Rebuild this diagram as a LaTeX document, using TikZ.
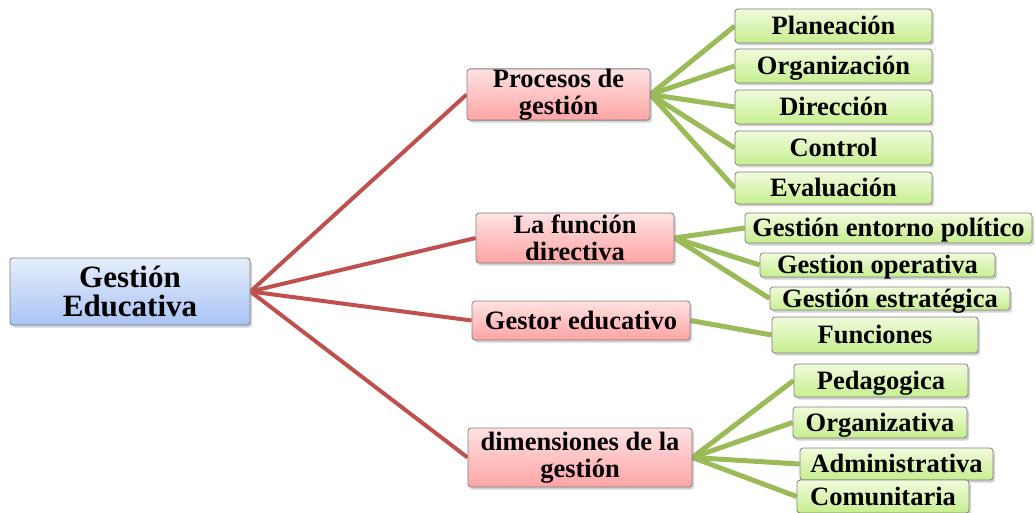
\documentclass[tikz,border=0pt]{standalone}
\usepackage{fontspec}
\setmainfont{Liberation Serif}
\usetikzlibrary{shadows,backgrounds}
\definecolor{redline}{HTML}{C0504D}
\definecolor{greenline}{HTML}{9BBB59}
\definecolor{rtop}{HTML}{FFE2E2}
\definecolor{rbot}{HTML}{FFA4A4}
\definecolor{gtop}{HTML}{F1FBDD}
\definecolor{gbot}{HTML}{C6EE8E}
\definecolor{btop}{HTML}{E6EEFC}
\definecolor{bbot}{HTML}{A7C3F5}
\definecolor{boxborder}{HTML}{7F7F7F}
\begin{document}
\begin{tikzpicture}[x=1pt,y=-1pt,
  box/.style={draw=boxborder, line width=0.8pt, rounded corners=3pt, inner sep=0pt, align=center,
    drop shadow={opacity=0.35, shadow xshift=2pt, shadow yshift=-2.5pt}},
  gbox/.style={box, top color=gtop, bottom color=gbot, font=\fontsize{26.5}{27}\selectfont\bfseries,
    text height=20pt, text depth=3pt},
  rbox/.style={box, top color=rtop, bottom color=rbot, font=\fontsize{26.5}{27}\selectfont\bfseries},
  rootbox/.style={box, top color=btop, bottom color=bbot, font=\fontsize{31}{29}\selectfont\bfseries},
  redcon/.style={draw=redline, line width=4pt},
  greencon/.style={draw=greenline, line width=5pt}]
\useasboundingbox (0,0) rectangle (1036,513);

% root
\node[rootbox, minimum width=240pt, minimum height=67pt] (root) at (130,291.5) {Gestión\\Educativa};

% second level
\node[rbox, minimum width=183pt, minimum height=51pt] (proc) at (558.5,94.5) {Procesos de\\gestión};
\node[rbox, minimum width=198pt, minimum height=50pt] (func) at (575,238) {La función\\directiva};
\node[rbox, minimum width=218pt, minimum height=39pt, text height=20pt, text depth=3pt] (gestor) at (581,320.5) {Gestor educativo};
\node[rbox, minimum width=224pt, minimum height=59pt] (dim) at (580,457.5) {dimensiones de la\\gestión};

% third level
\node[gbox, minimum width=197pt, minimum height=34pt] (plan) at (833.5,26) {Planeación};
\node[gbox, minimum width=197pt, minimum height=34pt] (org) at (833.5,66) {Organización};
\node[gbox, minimum width=197pt, minimum height=34pt] (dir) at (833.5,107) {Dirección};
\node[gbox, minimum width=197pt, minimum height=34pt] (ctrl) at (833.5,148) {Control};
\node[gbox, minimum width=197pt, minimum height=32pt] (eval) at (833.5,188) {Evaluación};

\node[gbox, minimum width=287pt, minimum height=30pt] (ent) at (888.5,228) {Gestión entorno político};
\node[gbox, minimum width=235pt, minimum height=24pt] (oper) at (877.5,265) {Gestion operativa};
\node[gbox, minimum width=240pt, minimum height=23pt] (estr) at (890,298.5) {Gestión estratégica};

\node[gbox, minimum width=206pt, minimum height=36pt] (funs) at (875,335) {Funciones};

\node[gbox, minimum width=174pt, minimum height=33pt] (ped) at (881,380.5) {Pedagogica};
\node[gbox, minimum width=174pt, minimum height=31pt] (orgz) at (880,422.5) {Organizativa};
\node[gbox, minimum width=193pt, minimum height=32pt] (adm) at (896.5,464) {Administrativa};
\node[gbox, minimum width=172pt, minimum height=33pt] (com) at (883,496.5) {Comunitaria};

\begin{scope}[on background layer]
  \foreach \t in {proc,func,gestor,dim}
    \draw[redcon] (root.east) -- (\t.west);
  \foreach \t in {plan,org,dir,ctrl,eval}
    \draw[greencon] (proc.east) -- (\t.west);
  \foreach \t in {ent,oper,estr}
    \draw[greencon] (func.east) -- (\t.west);
  \draw[greencon] (gestor.east) -- (funs.west);
  \foreach \t in {ped,orgz,adm,com}
    \draw[greencon] (dim.east) -- (\t.west);
\end{scope}
\end{tikzpicture}
\end{document}
